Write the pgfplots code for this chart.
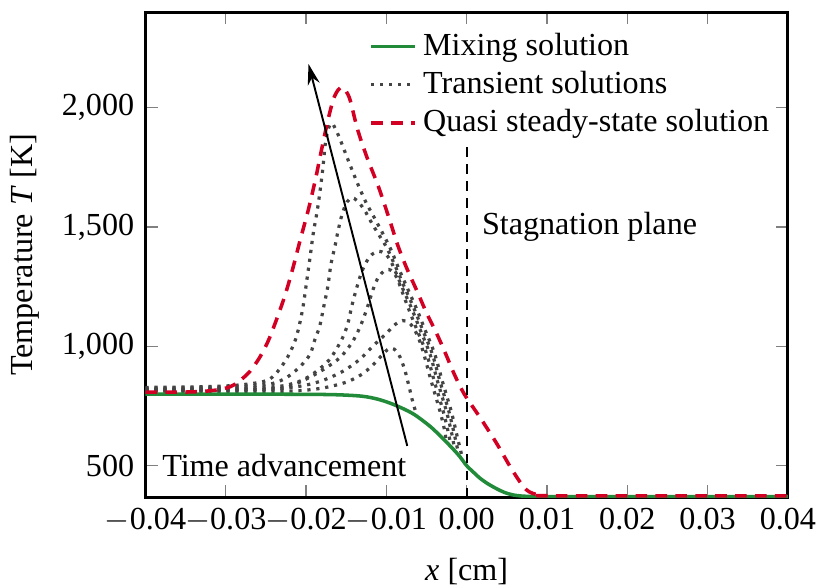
\documentclass[border=0pt]{standalone}
\usepackage{fontspec}
\setmainfont{Liberation Serif}
\usepackage{pgfplots}
\pgfplotsset{compat=1.18}
\usetikzlibrary{arrows.meta}

\definecolor{mixgreen}{RGB}{34,139,58}
\definecolor{qssred}{RGB}{210,0,35}
\definecolor{transgray}{RGB}{68,68,68}

\begin{document}
\begin{tikzpicture}
\begin{axis}[
  scale only axis,
  width=200pt, height=151pt,
  xmin=-0.04, xmax=0.04,
  ymin=368, ymax=2400,
  scaled x ticks=false,
  xtick={-0.04,-0.03,-0.02,-0.01,0,0.01,0.02,0.03,0.04},
  xticklabels={$-$0.04,$-$0.03,$-$0.02,$-$0.01,0.00,0.01,0.02,0.03,0.04},
  xticklabel style={inner xsep=0pt},
  ytick={500,1000,1500,2000},
  yticklabels={500,{1,000},{1,500},{2,000}},
  tick style={color=gray, line width=0.4pt},
  major tick length=3.8pt,
  axis line style={line width=0.9pt, black},
  xlabel={\textit{x} [cm]},
  xlabel style={inner ysep=0.5pt, yshift=-4pt},
  ylabel={Temperature \textit{T} [K]},
  legend style={draw=none, fill=none, at={(0.997,0.985)}, anchor=north east,
    row sep=-0.5pt},
  legend cell align=left,
  legend image code/.code={\draw[#1] (0cm,0cm) -- (0.48cm,0cm);},
]
% legend entries
\addlegendimage{mixgreen, line width=1.1pt}
\addlegendentry{Mixing solution}
\addlegendimage{transgray, line width=1pt, dash pattern=on 1pt off 1.8pt}
\addlegendentry{Transient solutions}
\addlegendimage{qssred, line width=1.1pt, dash pattern=on 3.6pt off 2.6pt}
\addlegendentry{Quasi steady-state solution}

% transient solutions
\pgfplotsset{transient/.style={transgray, line width=1pt,
  dash pattern=on 1pt off 1.8pt, smooth, forget plot}}
\addplot[transient] coordinates {
(-0.040,828) (-0.034,830) (-0.030,834) (-0.027,843) (-0.0248,858) (-0.0236,892)
(-0.0223,955) (-0.0213,1030) (-0.0207,1110) (-0.0203,1183) (-0.0199,1279)
(-0.0195,1375) (-0.0191,1475) (-0.0186,1571) (-0.0182,1667) (-0.0179,1750)
(-0.0176,1850) (-0.0172,1915) (-0.0168,1935) (-0.0164,1915) (-0.0158,1870)
(-0.0149,1792) (-0.0136,1683) (-0.0125,1600) (-0.0116,1545) (-0.0096,1417)
(-0.0084,1321) (-0.0073,1237) (-0.0062,1154) (-0.0052,1070) (-0.0040,970)
(-0.0030,850) (-0.0019,725) (-0.0012,625) (-0.0005,527)};
\addplot[transient] coordinates {
(-0.040,824) (-0.034,826) (-0.030,829) (-0.027,834) (-0.0241,845) (-0.0223,872)
(-0.0207,917) (-0.0195,967) (-0.0189,1029) (-0.0183,1085) (-0.0178,1167)
(-0.0173,1250) (-0.0169,1345) (-0.0164,1420) (-0.0160,1487) (-0.0155,1555)
(-0.0149,1605) (-0.0143,1622) (-0.0137,1612) (-0.0128,1575) (-0.0118,1515)
(-0.0108,1460) (-0.0099,1410) (-0.0087,1321) (-0.0076,1237) (-0.0065,1154)
(-0.0055,1070) (-0.0043,970) (-0.0033,850) (-0.0022,725) (-0.0015,625)
(-0.0010,547)};
\addplot[transient] coordinates {
(-0.040,820) (-0.034,821) (-0.030,823) (-0.026,827) (-0.0228,835) (-0.0205,858)
(-0.0188,893) (-0.0172,940) (-0.0162,990) (-0.0154,1040) (-0.0148,1095)
(-0.0143,1170) (-0.0137,1245) (-0.0130,1318) (-0.0121,1375) (-0.0111,1398)
(-0.0102,1390) (-0.0095,1360) (-0.0089,1315) (-0.0079,1237) (-0.0068,1154)
(-0.0058,1070) (-0.0046,970) (-0.0036,850) (-0.0025,725) (-0.0018,625)
(-0.0015,565)};
\addplot[transient] coordinates {
(-0.040,817) (-0.034,818) (-0.030,819) (-0.0232,823) (-0.0203,858) (-0.0179,902)
(-0.0158,952) (-0.0143,1015) (-0.0133,1080) (-0.0124,1160) (-0.0117,1235)
(-0.0110,1290) (-0.0103,1315) (-0.0097,1322) (-0.0091,1310) (-0.0086,1280)
(-0.0081,1235) (-0.0072,1154) (-0.0062,1070) (-0.0050,970) (-0.0040,850)
(-0.0029,725) (-0.0022,625) (-0.0020,582)};
\addplot[transient] coordinates {
(-0.040,814) (-0.034,815) (-0.028,817) (-0.0216,829) (-0.0182,854) (-0.0154,896)
(-0.0133,946) (-0.0117,1000) (-0.0099,1058) (-0.0089,1092) (-0.0080,1108)
(-0.0072,1100) (-0.0066,1075) (-0.0060,1035) (-0.0054,975) (-0.0044,852)
(-0.0033,725) (-0.0027,640) (-0.0026,602)};
\addplot[transient] coordinates {
(-0.040,811) (-0.034,811) (-0.028,811) (-0.0216,813) (-0.018,825) (-0.015,850)
(-0.013,884) (-0.0115,928) (-0.0105,965) (-0.0097,990) (-0.0090,988)
(-0.0083,955) (-0.0077,900) (-0.0072,835) (-0.0067,765) (-0.0062,710)};

% mixing solution
\addplot[mixgreen, line width=1.1pt, smooth, forget plot] coordinates {
(-0.040,800) (-0.030,800) (-0.020,799) (-0.016,797) (-0.013,791) (-0.011,778)
(-0.009,755) (-0.0067,718) (-0.0046,666) (-0.0033,625) (-0.0025,598)
(-0.0017,570) (-0.0009,540) (0,500) (0.0008,474) (0.0016,449) (0.0026,425)
(0.0037,404) (0.0047,388) (0.0057,378) (0.0068,373) (0.008,371) (0.010,370)
(0.040,370)};

% quasi steady-state solution
\addplot[qssred, line width=1.1pt, dash pattern=on 3.6pt off 2.6pt, smooth, forget plot] coordinates {
(-0.040,808) (-0.036,808) (-0.033,811) (-0.031,818) (-0.0295,830) (-0.0284,852)
(-0.0270,895) (-0.0257,958) (-0.0245,1040) (-0.0228,1196) (-0.0217,1321)
(-0.0207,1450) (-0.0197,1575) (-0.0188,1705) (-0.0181,1820) (-0.0173,1945)
(-0.0166,2035) (-0.0160,2075) (-0.0155,2085) (-0.0150,2068) (-0.0145,2030)
(-0.0136,1910) (-0.0124,1790) (-0.0110,1670) (-0.0096,1530) (-0.0086,1425)
(-0.0075,1330) (-0.0061,1225) (-0.0050,1140) (-0.0038,1058) (-0.0027,975)
(-0.0015,880) (-0.0003,800) (0.0017,700) (0.0037,595) (0.0057,480)
(0.0074,400) (0.0090,377) (0.0110,374) (0.040,374)};

% stagnation plane and annotations
\draw[black, semithick, dash pattern=on 3pt off 2.3pt] (axis cs:0,368) -- (axis cs:0,1860);
\node[anchor=west] at (axis cs:0.0005,1500) {Stagnation plane};
\draw[black, semithick, -{Stealth[length=6.5pt,width=3.8pt]}]
  (axis cs:-0.0074,583) -- (axis cs:-0.0197,2183);
\node[anchor=east] at (axis cs:-0.0061,500) {Time advancement};
\end{axis}
\path ([yshift=3.8pt]current axis.north);
\end{tikzpicture}
\end{document}
